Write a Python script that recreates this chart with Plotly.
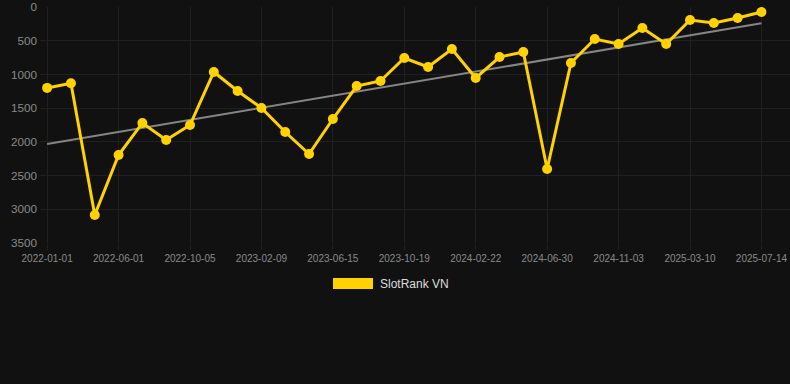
import numpy as np
import plotly.graph_objects as go

# Data
ranks = [1200, 1130, 3085, 2195, 1720, 1972, 1750, 964, 1246, 1498,
         1854, 2180, 1661, 1172, 1097, 756, 890, 623, 1053, 742,
         667, 2402, 830, 475, 549, 311, 549, 193, 237, 163, 74]
tick_labels = ["2022-01-01", "2022-06-01", "2022-10-05", "2023-02-09",
               "2023-06-15", "2023-10-19", "2024-02-22", "2024-06-30",
               "2024-11-03", "2025-03-10", "2025-07-14"]
series_name = "SlotRank VN"

idx = np.arange(len(ranks))
tick_idx = list(range(0, len(ranks), 3))
slope, intercept = np.polyfit(idx, ranks, 1)
trend = slope * idx + intercept

BG = "#111111"
GRID = "#202020"
TXT = "#8a8a8a"
GOLD = "#FFD200"

fig = go.Figure()
fig.add_trace(go.Scatter(
    x=[idx[0], idx[-1]], y=[trend[0], trend[-1]], mode="lines",
    line=dict(color="#858585", width=2), hoverinfo="skip", showlegend=False))
fig.add_trace(go.Scatter(
    x=idx, y=ranks, mode="lines+markers", name=series_name,
    line=dict(color=GOLD, width=3),
    marker=dict(color=GOLD, size=10), showlegend=False))

fig.update_layout(
    width=790, height=384,
    paper_bgcolor=BG, plot_bgcolor=BG,
    margin=dict(l=40, r=0, t=7, b=141),
    font=dict(family="Liberation Sans, Arial, sans-serif", color=TXT),
    xaxis=dict(range=[-0.3, 31.2], tickvals=tick_idx, ticktext=tick_labels,
               showgrid=True, gridcolor=GRID, gridwidth=1, zeroline=False,
               ticks="outside", ticklen=6, tickcolor=GRID,
               tickfont=dict(size=10, color=TXT), showline=False),
    yaxis=dict(range=[3500, 0], tickvals=[0, 500, 1000, 1500, 2000, 2500, 3000, 3500],
               showgrid=True, gridcolor=GRID, gridwidth=1, zeroline=False,
               tickfont=dict(size=11.7, color=TXT), showline=False, ticklabelstandoff=2),
    shapes=[dict(type="rect", xref="paper", yref="paper",
                 x0=(333 - 40) / 750, x1=(373 - 40) / 750,
                 y0=(384 - 141 - 289) / 236, y1=(384 - 141 - 278) / 236,
                 fillcolor=GOLD, line=dict(width=0))],
    annotations=[dict(text=series_name, xref="paper", yref="paper",
                      x=(378 - 40) / 750, y=(384 - 141 - 283.5) / 236,
                      xanchor="left", yanchor="middle", showarrow=False,
                      font=dict(size=12, color="#dddddd"))],
)

fig.write_html("out.html", config={"displayModeBar": False})
with open("out.html", "r", encoding="utf-8") as f:
    html = f.read()
html = html.replace("<head>", "<head><style>html,body{margin:0;padding:0;background:#111111;overflow:hidden;}</style>", 1)
with open("out.html", "w", encoding="utf-8") as f:
    f.write(html)
